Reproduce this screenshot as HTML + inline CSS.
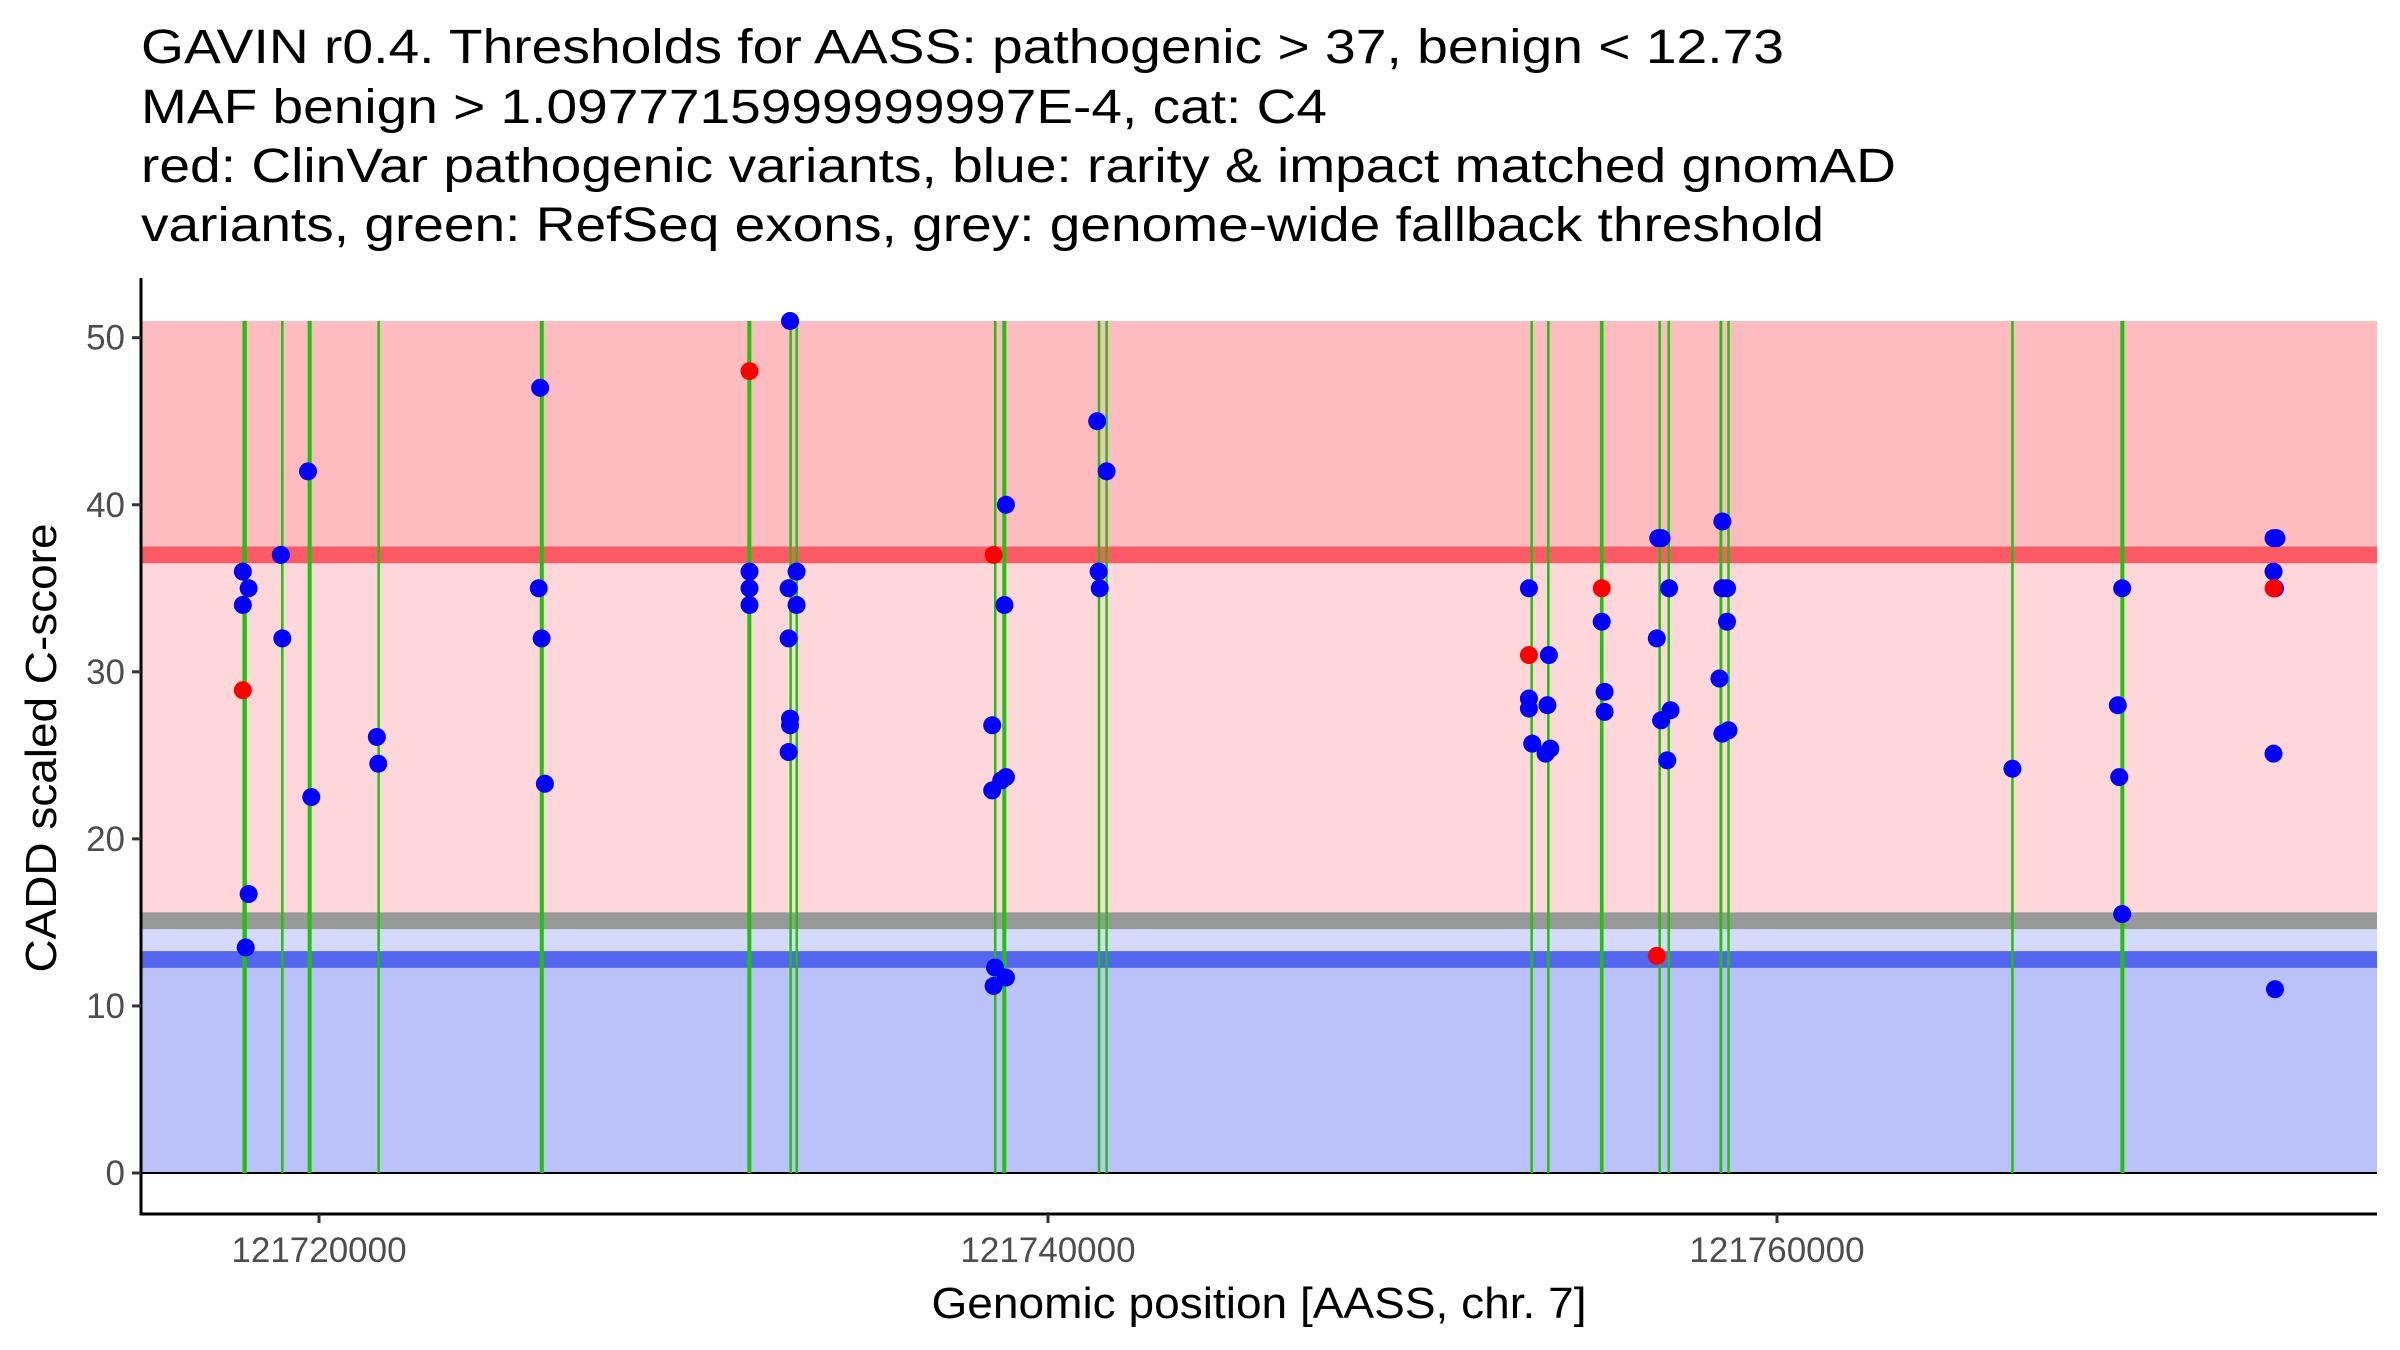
<!DOCTYPE html>
<html><head><meta charset="utf-8"><style>
html,body{margin:0;padding:0;background:#fff;}
svg{display:block;font-family:"Liberation Sans",Arial,sans-serif;}
</style></head><body>
<svg id="chart" width="2400" height="1350" viewBox="0 0 2400 1350" xmlns="http://www.w3.org/2000/svg">
<g font-size="48" fill="#000">
<text x="141" y="63" textLength="1643" lengthAdjust="spacingAndGlyphs">GAVIN r0.4. Thresholds for AASS: pathogenic &gt; 37, benign &lt; 12.73</text>
<text x="141" y="123" textLength="1186" lengthAdjust="spacingAndGlyphs">MAF benign &gt; 1.0977715999999997E-4, cat: C4</text>
<text x="141" y="182" textLength="1755" lengthAdjust="spacingAndGlyphs">red: ClinVar pathogenic variants, blue: rarity &amp; impact matched gnomAD</text>
<text x="141" y="241" textLength="1683" lengthAdjust="spacingAndGlyphs">variants, green: RefSeq exons, grey: genome-wide fallback threshold</text>
</g>
<g id="bands"></g>
<g id="exons"></g>
<g id="points"></g>
<g id="axes"></g>
</svg>
<script>
const yTicks = [0, 10, 20, 30, 40, 50];
const xTicks = [121720000, 121740000, 121760000];
const thresholds = [37, 15.1, 12.78]; // pathogenic, fallback, benign
const yMaxBand = 51;
const exonStarts = [121717900,121718983,121719688,121721626,121726057,121731751,121732914,121733092,121738537,121738746,121741389,121741598,121753254,121753691,121755142,121756751,121757000,121758421,121758659,121766449,121769420];
const exonEnds   = [121718020,121719003,121719798,121721646,121726167,121731861,121732964,121733122,121738567,121738856,121741409,121741618,121753284,121753761,121755242,121756811,121757060,121758501,121758679,121766469,121769530];
const pointPos = [
121717910,121718069,121717910,121717910,121718069,121717989,
121718953,121718993,
121719698,121719788,
121721586,121721626,
121726067,121726028,121726107,121726197,
121731811,121731811,121731811,121731811,
121732923,121732884,121733102,121733102,121732884,121732923,121732923,121732884,
121738508,121738468,121738468,121738547,121738508,121738845,121738805,121738845,121738716,121738845,
121741349,121741607,121741389,121741419,
121753194,121753194,121753194,121753194,121753284,121753741,121753701,121753781,121753651,
121755191,121755191,121755270,121755270,
121756741,121756830,121756702,121756702,121757039,121757079,121756820,121756989,
121758500,121758500,121758629,121758629,121758421,121758500,121758669,
121766458,
121769469,121769350,121769390,121769469,
121773622,121773702,121773622,121773662,121773622,121773622,121773662];
const pointScore = [
36,35,34,28.9,16.7,13.5,
37,32,
42,22.5,
26.1,24.5,
47,35,32,23.3,
48,36,35,34,
51,35,36,34,32,27.2,26.8,25.2,
37,26.8,22.9,12.3,11.2,40,34,23.7,23.5,11.7,
45,42,36,35,
35,31,28.4,27.8,25.7,31,28,25.4,25.1,
35,33,28.8,27.6,
38,38,13,32,35,27.7,27.1,24.7,
39,35,35,33,29.6,26.3,26.5,
24.2,
35,28,23.7,15.5,
38,38,36,35,35,25.1,11];
const pointType = [
'b','b','b','r','b','b',
'b','b','b','b','b','b',
'b','b','b','b',
'r','b','b','b',
'b','b','b','b','b','b','b','b',
'r','b','b','b','b','b','b','b','b','b',
'b','b','b','b',
'b','r','b','b','b','b','b','b','b',
'r','b','b','b',
'b','b','r','b','b','b','b','b',
'b','b','b','b','b','b','b',
'b',
'b','b','b','b',
'b','b','b','b','r','b','b'];

const NS='http://www.w3.org/2000/svg';
const L=141, R=2377, AX_Y=1214, AX_TOP=278;
const Y0=1173, YPER=16.706;
const X0=319, XPER=1458/40000;
function y(v){return Y0 - v*YPER;}
function x(p){return X0 + (p-121720000)*XPER;}
function mk(tag, attrs, parent){const e=document.createElementNS(NS,tag);for(const k in attrs)e.setAttribute(k,attrs[k]);parent.appendChild(e);return e;}

const bands=document.getElementById('bands');
let r;
r=mk('rect',{x:L,y:y(yMaxBand),width:R-L,height:y(thresholds[0])-y(yMaxBand),fill:'#fdbcc0'},bands);


r=mk('rect',{x:L,y:y(thresholds[0]),width:R-L,height:y(thresholds[1])-y(thresholds[0]),fill:'#fdd7da'},bands);


r=mk('rect',{x:L,y:y(thresholds[1]),width:R-L,height:y(thresholds[2])-y(thresholds[1]),fill:'#d5d9fa'},bands);


r=mk('rect',{x:L,y:y(thresholds[2]),width:R-L,height:y(0)-y(thresholds[2]),fill:'#bbc1f9'},bands);


const lineCols=['#fc5a65','#999999','#5566f0'];
const lineNames=['pathogenic-threshold-line','fallback-threshold-line','benign-threshold-line'];
thresholds.forEach((t,i)=>{
  const e=mk('rect',{x:L,y:y(t+0.5),width:R-L,height:y(t-0.5)-y(t+0.5),fill:lineCols[i]},bands);
  
  
});
r=mk('line',{x1:L,x2:R,y1:y(0),y2:y(0),stroke:'#000','stroke-width':2},bands);



const ex=document.getElementById('exons');
exonStarts.forEach((s,i)=>{
  const x1=x(s), x2=x(exonEnds[i]);
  const w=Math.max(2.5,x2-x1);
  const e=mk('rect',{x:(x1+x2)/2-w/2,y:y(yMaxBand),width:w,height:y(0)-y(yMaxBand),fill:'#1fc30b'},ex);
  
  
});

const pts=document.getElementById('points');
pointPos.forEach((p,i)=>{
  const c=mk('circle',{cx:x(p),cy:y(pointScore[i]),r:9,fill:pointType[i]==='r'?'#ff0000':'#0000ff'},pts);
  
  
});

const ax=document.getElementById('axes');
let a=mk('line',{x1:L,x2:L,y1:AX_TOP,y2:AX_Y+1.5,stroke:'#000','stroke-width':3},ax);


a=mk('line',{x1:L-1.5,x2:R,y1:AX_Y,y2:AX_Y,stroke:'#000','stroke-width':3},ax);


yTicks.forEach(v=>{
  const t=mk('line',{x1:L-9,x2:L,y1:y(v),y2:y(v),stroke:'#333','stroke-width':3},ax);
  
  
  const lb=mk('text',{x:L-16,y:y(v)+12,'text-anchor':'end','font-size':35,fill:'#4d4d4d'},ax);
  lb.textContent=v;
  
  
});
xTicks.forEach(v=>{
  const t=mk('line',{x1:x(v),x2:x(v),y1:AX_Y,y2:AX_Y+9,stroke:'#333','stroke-width':3},ax);
  
  
  const lb=mk('text',{x:x(v),y:AX_Y+48,'text-anchor':'middle','font-size':35,fill:'#4d4d4d'},ax);
  lb.textContent=v;
  
  
});
a=mk('text',{x:(L+R)/2,y:1318,'text-anchor':'middle','font-size':44,fill:'#000',textLength:655,lengthAdjust:'spacingAndGlyphs'},ax);
a.textContent='Genomic position [AASS, chr. 7]';


a=mk('text',{x:0,y:0,'text-anchor':'middle','font-size':44,fill:'#000',transform:'translate(56,748) rotate(-90)',textLength:449,lengthAdjust:'spacingAndGlyphs'},ax);
a.textContent='CADD scaled C-score';


</script>
</body></html>
